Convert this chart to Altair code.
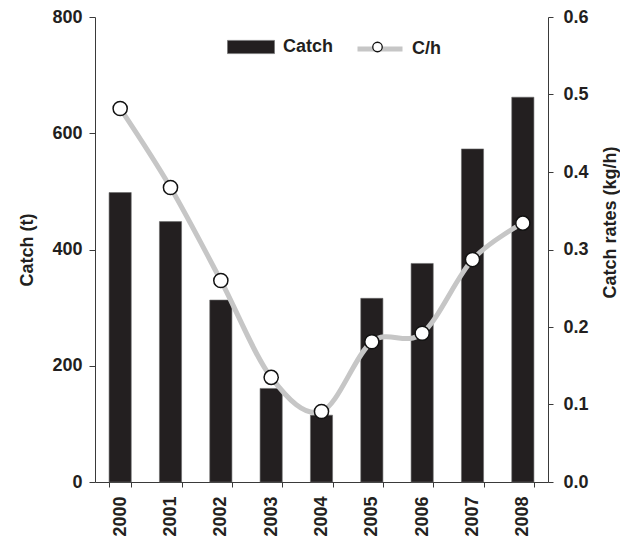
import altair as alt
import pandas as pd

years = ["2000", "2001", "2002", "2003", "2004", "2005", "2006", "2007", "2008"]
catch_t = [498, 448, 313, 161, 115, 316, 376, 573, 662]
catch_rate = [0.482, 0.380, 0.260, 0.135, 0.091, 0.181, 0.192, 0.287, 0.334]
left_ticks = [0, 200, 400, 600, 800]
right_ticks = [0.0, 0.1, 0.2, 0.3, 0.4, 0.5, 0.6]

df = pd.DataFrame({"year": years, "catch": catch_t, "rate": catch_rate})

FONT = "Liberation Sans"
INK = "#231f20"
AX = "#3a3a3a"
LINE = "#c6c6c6"

x_enc = alt.X(
    "year:N",
    sort=years,
    scale=alt.Scale(paddingInner=0.56, paddingOuter=0.28),
    axis=alt.Axis(
        title=None, labelAngle=270, tickBand="extent", tickSize=5, labelPadding=9,
        labelFont=FONT, labelFontSize=18, labelFontWeight="bold", labelColor=INK,
        domainColor=AX, tickColor=AX, grid=False,
    ),
)

base = alt.Chart(df)

bars = base.transform_calculate(s1="'Catch'").mark_bar(
    stroke="#6a6a6a", strokeWidth=0.6
).encode(
    x=x_enc,
    y=alt.Y(
        "catch:Q",
        scale=alt.Scale(domain=[0, 800], nice=False),
        axis=alt.Axis(
            orient="left", title="Catch (t)", values=left_ticks, tickSize=6, labelPadding=7,
            labelFont=FONT, labelFontSize=18, labelFontWeight="bold", labelColor=INK,
            titleFont=FONT, titleFontSize=18, titleFontWeight="bold", titleColor=INK,
            titlePadding=15, domainColor=AX, tickColor=AX, grid=False,
        ),
    ),
    fill=alt.Fill(
        "s1:N",
        scale=alt.Scale(domain=["Catch"], range=[INK]),
        legend=alt.Legend(
            title=None, orient="none", legendX=132, legendY=6, padding=0,
            symbolType="M-1,-0.28H1V0.28H-1Z", symbolSize=2209,
            symbolStrokeColor="#777", symbolStrokeWidth=0.8,
            labelFont=FONT, labelFontSize=18, labelFontWeight="bold", labelColor=INK,
            labelOffset=8,
        ),
    ),
)

right_y = alt.Y(
    "rate:Q",
    scale=alt.Scale(domain=[0, 0.6], nice=False),
    axis=alt.Axis(
        orient="right", title="Catch rates (kg/h)", values=right_ticks, format=".1f",
        tickSize=5, labelPadding=10,
        labelFont=FONT, labelFontSize=18, labelFontWeight="bold", labelColor=INK,
        titleFont=FONT, titleFontSize=18, titleFontWeight="bold", titleColor=INK,
        titleAngle=270, titleX=62, titleY=205, titleAlign="center", titleBaseline="middle",
        domainColor=AX, tickColor=AX, grid=False,
    ),
)

line = base.transform_calculate(s2="'C/h'").mark_line(
    strokeWidth=5, interpolate="cardinal"
).encode(
    x=x_enc,
    y=right_y,
    stroke=alt.Stroke(
        "s2:N",
        scale=alt.Scale(domain=["C/h"], range=[LINE]),
        legend=alt.Legend(
            title=None, orient="none", legendX=260, legendY=7, padding=0,
            symbolType="stroke", symbolSize=2025, symbolStrokeWidth=5,
            labelFont=FONT, labelFontSize=18, labelFontWeight="bold", labelColor=INK,
            labelOffset=7,
        ),
    ),
)

points = base.transform_calculate(s3="'pt'").mark_point(
    filled=False, fill="white", fillOpacity=1, strokeWidth=1.5, size=200, opacity=1,
    shape="circle",
).encode(
    x=x_enc,
    y=alt.Y("rate:Q", scale=alt.Scale(domain=[0, 0.6], nice=False), axis=None),
    color=alt.Color(
        "s3:N",
        scale=alt.Scale(domain=["pt"], range=["#111111"]),
        legend=alt.Legend(
            title=None, orient="none", legendX=277, legendY=24.5, padding=0,
            symbolType="circle", symbolSize=90, symbolFillColor="white",
            symbolStrokeWidth=1.3, labelExpr="''", labelOffset=0,
        ),
    ),
)

chart = alt.layer(bars, line, points).resolve_scale(y="independent").properties(
    width=453,
    height=465,
    autosize=alt.AutoSizeParams(type="none"),
    padding={"left": 87, "top": 9, "right": 72, "bottom": 57},
).configure_view(stroke=None)

chart.save("out.html", embed_options={"renderer": "svg", "actions": False})
